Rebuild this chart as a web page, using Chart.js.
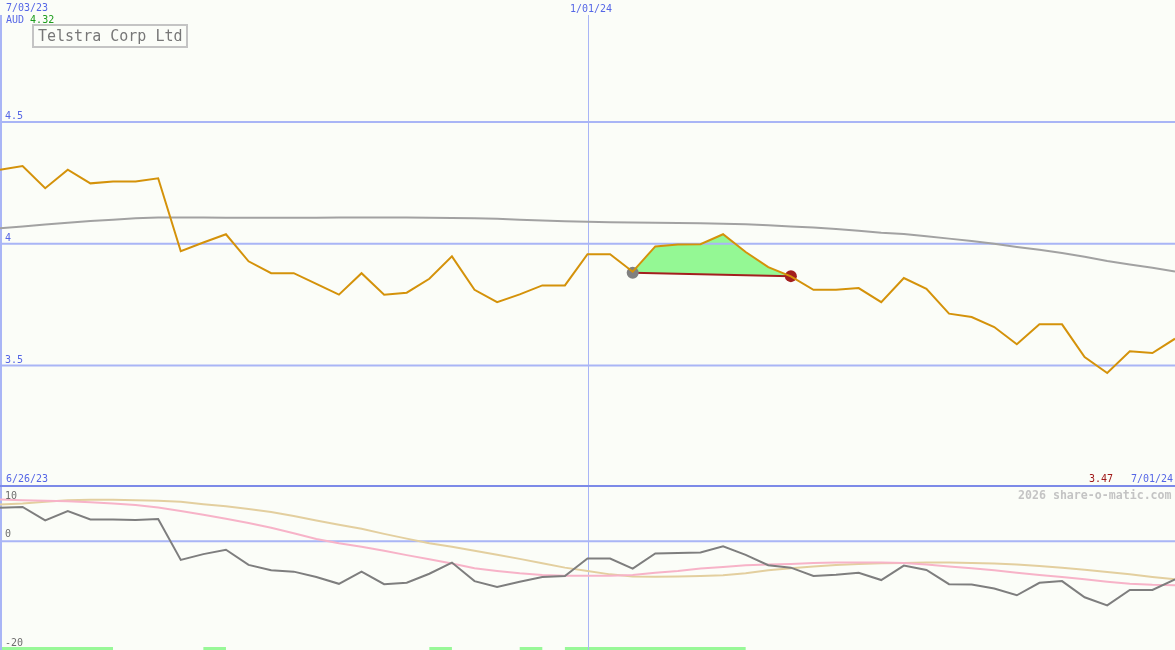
<!DOCTYPE html>
<html>
<head>
<meta charset="utf-8">
<script src="https://cdn.jsdelivr.net/npm/chart.js@4.4.0/dist/chart.umd.min.js"></script>
<style>
html,body{margin:0;padding:0;background:#fbfdf8;}
#wrap{position:relative;width:1175px;height:650px;overflow:hidden;background:#fbfdf8;font-family:"DejaVu Sans Mono",monospace;}
.t{position:absolute;white-space:pre;font-size:10px;line-height:10px;}
canvas{position:absolute;left:0;}
</style>
</head>
<body>
<div id="wrap">
  <canvas id="c1" width="1175" height="487" style="top:0"></canvas>
  <canvas id="c2" width="1175" height="163" style="top:487px"></canvas>
  <div class="t" style="left:6px;top:3px;color:#5566e6">7/03/23</div>
  <div class="t" style="left:6px;top:15px;color:#5566e6">AUD <span style="color:#1c9c1c">4.32</span></div>
  <div style="position:absolute;left:32px;top:24px;width:152px;height:20px;border:2px solid #c4c4c4;"></div>
  <div class="t" style="left:38px;top:29px;font-size:15px;line-height:15px;color:#777">Telstra Corp Ltd</div>
  <div class="t" style="left:570px;top:4px;color:#5566e6">1/01/24</div>
  <div class="t" style="left:6px;top:474px;color:#5566e6">6/26/23</div>
  <div class="t" style="left:1089px;top:474px;color:#a01818">3.47</div>
  <div class="t" style="left:1131px;top:474px;color:#5566e6">7/01/24</div>
  <div class="t" style="left:1018px;top:490px;font-size:11.6px;line-height:11.6px;font-weight:bold;color:#c4c4c4">2026 share-o-matic.com</div>
</div>
<script>
// ---- categories (weekly) ----
const weeks = ["7/03/23","7/10/23","7/17/23","7/24/23","7/31/23","8/07/23","8/14/23","8/21/23","8/28/23",
  "9/04/23","9/11/23","9/18/23","9/25/23","10/02/23","10/09/23","10/16/23","10/23/23","10/30/23",
  "11/06/23","11/13/23","11/20/23","11/27/23","12/04/23","12/11/23","12/18/23","12/25/23",
  "1/01/24","1/08/24","1/15/24","1/22/24","1/29/24","2/05/24","2/12/24","2/19/24","2/26/24",
  "3/04/24","3/11/24","3/18/24","3/25/24","4/01/24","4/08/24","4/15/24","4/22/24","4/29/24",
  "5/06/24","5/13/24","5/20/24","5/27/24","6/03/24","6/10/24","6/17/24","6/24/24","7/01/24"];

// ---- main panel series (AUD) ----
const price = [4.303,4.318,4.227,4.303,4.247,4.255,4.255,4.268,3.968,4.004,4.038,3.927,3.878,3.878,3.834,3.790,3.878,3.790,
  3.798,3.855,3.947,3.810,3.759,3.791,3.828,3.828,3.956,3.956,3.884,3.988,3.996,3.997,4.038,3.965,3.903,3.865,
  3.810,3.810,3.817,3.759,3.858,3.814,3.712,3.698,3.657,3.586,3.668,3.668,3.534,3.468,3.557,3.550,3.609];
const longAvg = [4.063,4.070,4.078,4.085,4.092,4.098,4.104,4.107,4.107,4.107,4.106,4.106,4.106,4.106,4.106,4.107,4.107,4.107,
  4.107,4.106,4.105,4.104,4.102,4.098,4.094,4.091,4.089,4.087,4.086,4.085,4.084,4.083,4.081,4.079,4.075,4.070,
  4.066,4.060,4.052,4.044,4.039,4.030,4.020,4.010,3.999,3.986,3.974,3.961,3.946,3.928,3.914,3.900,3.885];
// trade: entry and exit only
const trade = weeks.map(() => null);
trade[28] = 3.880;
trade[35] = 3.866;
const priceTicks = [3.5, 4, 4.5];

// ---- lower panel series ----
const osc = [6.2,6.33,3.85,5.59,4.04,4.04,3.92,4.1,-3.41,-2.35,-1.55,-4.34,-5.33,-5.58,-6.57,-7.82,-5.58,-7.88,
  -7.63,-5.96,-3.91,-7.32,-8.38,-7.45,-6.57,-6.39,-3.17,-3.17,-5.03,-2.23,-2.17,-2.05,-0.93,-2.48,-4.4,-4.84,
  -6.39,-6.14,-5.77,-7.13,-4.47,-5.27,-7.88,-7.94,-8.68,-9.93,-7.63,-7.32,-10.3,-11.79,-8.94,-8.94,-7.0];
const pinkAvg = [7.70,7.58,7.45,7.39,7.20,6.96,6.70,6.21,5.59,4.91,4.16,3.36,2.49,1.50,0.44,-0.37,-0.99,-1.73,
  -2.54,-3.28,-4.09,-4.96,-5.45,-5.89,-6.20,-6.32,-6.32,-6.32,-6.20,-5.77,-5.45,-5.02,-4.71,-4.40,-4.28,-4.15,
  -3.97,-3.90,-3.90,-3.90,-3.97,-4.28,-4.65,-4.96,-5.33,-5.77,-6.20,-6.57,-7.00,-7.44,-7.81,-8.00,-8.06];
const tanAvg = [6.77,6.96,7.27,7.58,7.64,7.64,7.58,7.45,7.27,6.83,6.46,5.97,5.41,4.66,3.85,3.04,2.30,1.37,
  0.50,-0.37,-0.99,-1.73,-2.48,-3.23,-4.03,-4.84,-5.45,-6.08,-6.45,-6.51,-6.45,-6.39,-6.26,-5.89,-5.33,-4.96,
  -4.65,-4.34,-4.15,-4.03,-3.97,-3.90,-3.90,-3.97,-4.09,-4.28,-4.53,-4.84,-5.21,-5.64,-6.08,-6.57,-7.00];
const upWeeks = [1,1,1,1,1,0,0,0,0,1,0,0,0,0,0,0,0,0,0,1,0,0,0,1,0,1,1,1,1,1,1,1,1,0,0,0,
  0,0,0,0,0,0,0,0,0,0,0,0,0,0,0,0,0];
const oscTicks = [10, 0, -20];

// ---- style ----
const GRID = '#a9b5f6';
const SEP = '#7c8ae8';
const BLUE = '#5566e6';
const markIndex = weeks.indexOf('1/01/24');
const entryIndex = trade.findIndex(v => v !== null);

const topDeco = {
  id: 'topDeco',
  beforeDatasetsDraw(chart) {
    const {ctx, chartArea: a, scales: {x, y}} = chart;
    ctx.save();
    ctx.strokeStyle = GRID; ctx.lineWidth = 2;
    priceTicks.forEach(v => {
      const py = y.getPixelForValue(v) + 0.25;
      ctx.beginPath(); ctx.moveTo(a.left, py); ctx.lineTo(a.right, py); ctx.stroke();
    });
    ctx.lineWidth = 1;
    const mx = Math.round(x.getPixelForValue(markIndex)) + 0.5;
    ctx.beginPath(); ctx.moveTo(mx, 15); ctx.lineTo(mx, a.bottom); ctx.stroke();
    ctx.fillStyle = GRID;
    ctx.fillRect(a.left, 15, 2, a.bottom - 15);
    ctx.restore();
  },
  afterDatasetsDraw(chart) {
    const {ctx, chartArea: a, scales: {y}} = chart;
    ctx.save();
    ctx.fillStyle = SEP;
    ctx.fillRect(a.left, a.bottom - 2, a.right - a.left, 2);
    ctx.font = '10px "DejaVu Sans Mono"';
    ctx.fillStyle = BLUE;
    ctx.textBaseline = 'alphabetic';
    priceTicks.forEach(v => ctx.fillText(String(v), 5, y.getPixelForValue(v) - 2.5));
    ctx.restore();
  }
};

const botDeco = {
  id: 'botDeco',
  beforeDatasetsDraw(chart) {
    const {ctx, chartArea: a, scales: {x, y}} = chart;
    ctx.save();
    ctx.strokeStyle = GRID; ctx.lineWidth = 2;
    const zy = y.getPixelForValue(0);
    ctx.beginPath(); ctx.moveTo(a.left, zy); ctx.lineTo(a.right, zy); ctx.stroke();
    ctx.lineWidth = 1;
    const mx = Math.round(x.getPixelForValue(markIndex)) + 0.5;
    ctx.beginPath(); ctx.moveTo(mx, a.top); ctx.lineTo(mx, a.bottom); ctx.stroke();
    ctx.fillStyle = GRID;
    ctx.fillRect(a.left, a.top, 2, a.bottom - a.top);
    ctx.restore();
  },
  afterDatasetsDraw(chart) {
    const {ctx, chartArea: a, scales: {y}} = chart;
    ctx.save();
    ctx.font = '10px "DejaVu Sans Mono"';
    ctx.fillStyle = '#6e6e6e';
    ctx.textBaseline = 'alphabetic';
    oscTicks.forEach(v => {
      const py = Math.max(y.getPixelForValue(v) - 4.5, a.top + 11.5);
      ctx.fillText(String(v), 5, py);
    });
    ctx.restore();
  }
};

const hiddenX = {type: 'category', display: false, offset: false, grid: {display: false}};
const commonOpts = {
  responsive: false,
  animation: false,
  events: [],
  layout: {padding: 0, autoPadding: false},
  plugins: {legend: {display: false}, tooltip: {enabled: false}, filler: {drawTime: 'beforeDatasetsDraw'}},
  elements: {point: {radius: 0}, line: {tension: 0}}
};

new Chart(document.getElementById('c1'), {
  type: 'line',
  data: {
    labels: weeks,
    datasets: [
      {data: price, borderColor: '#d4920a', borderWidth: 2, order: 0,
       fill: {target: 2, above: '#94f894', below: '#f8c4d4'}},
      {data: longAvg, borderColor: '#a2a2a2', borderWidth: 2, order: 2, fill: false},
      {data: trade, borderColor: '#a31f1f', borderWidth: 2, order: 1, spanGaps: true, fill: false,
       pointRadius: 6, pointHoverRadius: 6, pointBorderWidth: 0,
       pointBackgroundColor: c => c.dataIndex === entryIndex ? '#808080' : '#a31f1f',
       pointBorderColor: c => c.dataIndex === entryIndex ? '#808080' : '#a31f1f'}
    ]
  },
  options: Object.assign({}, commonOpts, {
    scales: {
      x: hiddenX,
      y: {type: 'linear', display: false, min: 3, max: 5}
    }
  }),
  plugins: [topDeco]
});

new Chart(document.getElementById('c2'), {
  type: 'line',
  data: {
    labels: weeks,
    datasets: [
      {data: upWeeks, yAxisID: 'yf', stepped: 'before', borderColor: 'rgba(0,0,0,0)', borderWidth: 0,
       backgroundColor: '#98f898', fill: 'origin', order: 4},
      {data: tanAvg, borderColor: '#e3cf9f', borderWidth: 2, fill: false, order: 3},
      {data: pinkAvg, borderColor: '#f7b3c8', borderWidth: 2, fill: false, order: 2},
      {data: osc, borderColor: '#7e7e7e', borderWidth: 2, fill: false, order: 1}
    ]
  },
  options: Object.assign({}, commonOpts, {
    scales: {
      x: hiddenX,
      y: {type: 'linear', display: false, min: -20, max: 10},
      yf: {type: 'linear', display: false, min: 0, max: 54}
    }
  }),
  plugins: [botDeco]
});
</script>
</body>
</html>
